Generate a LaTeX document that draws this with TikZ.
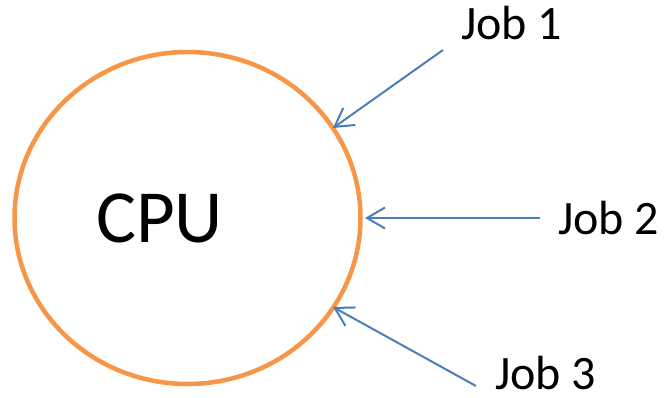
\documentclass[tikz,border=0pt]{standalone}
\usepackage{fontspec}
\setmainfont{Carlito}
\usetikzlibrary{arrows.meta}
\definecolor{cpuorange}{HTML}{F79646}
\definecolor{jobblue}{HTML}{4A7EBB}
\begin{document}
\begin{tikzpicture}[x=1pt,y=-1pt,
  cpuring/.style={draw=cpuorange,line width=4.5pt},
  joblabel/.style={anchor=base west,inner sep=0pt,font=\fontsize{48}{52}\selectfont},
  jobarrow/.style={draw=jobblue,line width=2pt,-{Straight Barb[length=18pt,width=21pt]}}]
  \useasboundingbox (0,0) rectangle (664,398);
  % processor
  \draw[cpuring] (187.5,218) ellipse [x radius=173, y radius=166];
  \node[anchor=base west,inner sep=0pt,font=\fontsize{75}{80}\selectfont] (cpu) at (96,243) {CPU};
  % jobs
  \node[joblabel] (job1) at (461,40) {Job 1};
  \node[joblabel] (job2) at (558,235) {Job 2};
  \node[joblabel] (job3) at (495,389) {Job 3};
  % arrow tails and tips on the ring
  \coordinate (s1) at (443,50);
  \coordinate (s2) at (540,218);
  \coordinate (s3) at (476,386);
  \coordinate (t1) at (333,128);
  \coordinate (t2) at (365,218);
  \coordinate (t3) at (333,307);
  \draw[jobarrow] (s1) -- (t1);
  \draw[jobarrow] (s2) -- (t2);
  \draw[jobarrow] (s3) -- (t3);
\end{tikzpicture}
\end{document}
